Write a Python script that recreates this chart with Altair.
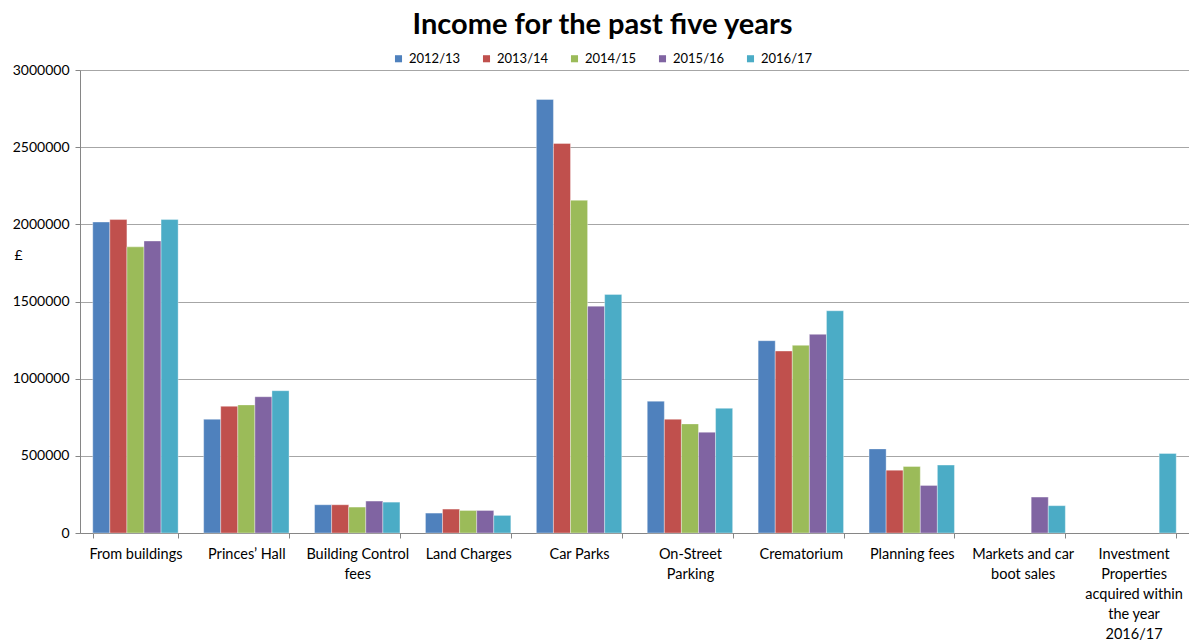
import json
import altair as alt
import pandas as pd

categories = [
    "From buildings",
    "Princes’ Hall",
    "Building Control fees",
    "Land Charges",
    "Car Parks",
    "On-Street Parking",
    "Crematorium",
    "Planning fees",
    "Markets and car boot sales",
    "Investment Properties acquired within the year 2016/17",
]
category_label_lines = [
    ["From buildings"],
    ["Princes’ Hall"],
    ["Building Control", "fees"],
    ["Land Charges"],
    ["Car Parks"],
    ["On-Street", "Parking"],
    ["Crematorium"],
    ["Planning fees"],
    ["Markets and car", "boot sales"],
    ["Investment", "Properties", "acquired within", "the year", "2016/17"],
]
years = ["2012/13", "2013/14", "2014/15", "2015/16", "2016/17"]
colors = ["#4F81BD", "#C0504D", "#9BBB59", "#8064A2", "#4BACC6"]

v_2012_13 = [2015000, 737000, 183000, 129000, 2809000, 854000, 1246000, 545000, None, None]
v_2013_14 = [2031000, 821000, 183000, 155000, 2524000, 737000, 1179000, 407000, None, None]
v_2014_15 = [1854000, 830000, 168000, 146000, 2156000, 707000, 1216000, 431000, None, None]
v_2015_16 = [1892000, 883000, 207000, 146000, 1470000, 653000, 1287000, 308000, 233000, None]
v_2016_17 = [2031000, 922000, 200000, 114000, 1546000, 808000, 1440000, 440000, 177000, 515000]

series = [v_2012_13, v_2013_14, v_2014_15, v_2015_16, v_2016_17]
rows = []
for year, vals in zip(years, series):
    for cat, v in zip(categories, vals):
        if v is not None:
            rows.append({"category": cat, "year": year, "value": v})
df = pd.DataFrame(rows)

# label expression for wrapped category labels
expr = "datum.value"
for cat, lines in reversed(list(zip(categories, category_label_lines))):
    expr = f"datum.value == {json.dumps(cat)} ? {json.dumps(lines)} : ({expr})"

FONT = "Lato"
GRID = "#a6a6a6"

chart = (
    alt.Chart(df)
    .mark_bar(stroke="#ffffff", strokeWidth=0.6, strokeOpacity=0.6)
    .encode(
        x=alt.X(
            "category:N",
            sort=categories,
            scale=alt.Scale(paddingInner=0.23, paddingOuter=0.115),
            axis=alt.Axis(
                title=None,
                labelAngle=0,
                labelExpr=expr,
                labelLineHeight=20,
                labelPadding=9,
                labelFontSize=14.5,
                labelFont=FONT,
                labelColor="#000000",
                labelLimit=300,
                tickBand="extent",
                tickSize=5,
                tickColor="#868686",
                domainColor="#868686",
                grid=False,
            ),
        ),
        xOffset=alt.XOffset("year:N", sort=years, scale=alt.Scale(paddingInner=0, paddingOuter=0)),
        y=alt.Y(
            "value:Q",
            scale=alt.Scale(domain=[0, 3000000], nice=False),
            axis=alt.Axis(
                title="£",
                titleAngle=0,
                titleX=-66,
                titleY=185,
                titleAlign="left",
                titleBaseline="middle",
                titleFont=FONT,
                titleFontSize=14,
                titleFontWeight="normal",
                titleColor="#000000",
                values=[0, 500000, 1000000, 1500000, 2000000, 2500000, 3000000],
                format="d",
                labelFont=FONT,
                labelFontSize=14,
                labelColor="#000000",
                labelPadding=6,
                tickSize=5,
                tickColor="#868686",
                domainColor="#868686",
                gridColor=GRID,
                gridWidth=1,
            ),
        ),
        color=alt.Color(
            "year:N",
            sort=years,
            scale=alt.Scale(domain=years, range=colors),
            legend=alt.Legend(
                title=None,
                orient="none",
                legendX=312,
                legendY=-18,
                direction="horizontal",
                symbolType="square",
                symbolSize=50,
                symbolStrokeWidth=0,
                labelFont=FONT,
                labelFontSize=13,
                labelColor="#000000",
                labelOffset=4,
                columnPadding=19,
            ),
        ),
    )
    .properties(
        width=1109,
        height=463,
        autosize=alt.AutoSizeParams(type="none"),
        padding={"left": 80, "top": 70, "right": 0, "bottom": 107},
        title=alt.TitleParams(
            text="Income for the past five years",
            font=FONT,
            fontSize=29,
            fontWeight="bold",
            color="#000000",
            anchor="middle",
            frame="group",
            dx=-32,
            offset=12,
        ),
    )
    .configure_view(stroke=None)
    .configure(background="#ffffff")
)

chart.save("out.html", embed_options={"renderer": "svg", "actions": False})
